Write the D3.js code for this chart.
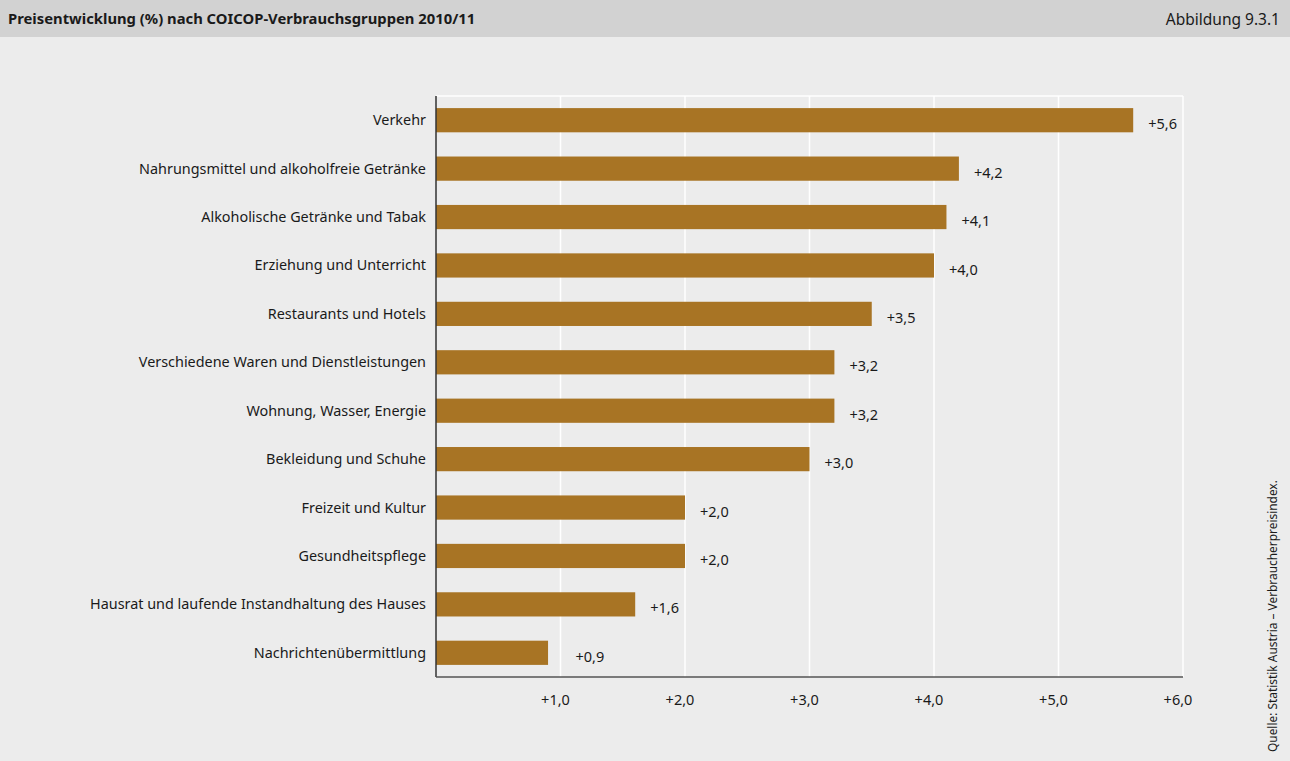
<!DOCTYPE html>
<html>
<head>
<meta charset="utf-8">
<script src="https://cdn.jsdelivr.net/npm/d3@7"></script>
<style>
  html, body { margin: 0; padding: 0; background: #ececec; }
  svg { display: block; font-family: "Noto Sans", "Open Sans", sans-serif; }
</style>
</head>
<body>
<svg id="chart" width="1290" height="761"></svg>
<script>
// COICOP consumption groups, price change 2010/11 in percent
const categories = [
  "Verkehr",
  "Nahrungsmittel und alkoholfreie Getränke",
  "Alkoholische Getränke und Tabak",
  "Erziehung und Unterricht",
  "Restaurants und Hotels",
  "Verschiedene Waren und Dienstleistungen",
  "Wohnung, Wasser, Energie",
  "Bekleidung und Schuhe",
  "Freizeit und Kultur",
  "Gesundheitspflege",
  "Hausrat und laufende Instandhaltung des Hauses",
  "Nachrichtenübermittlung"
];
const values = [5.6, 4.2, 4.1, 4.0, 3.5, 3.2, 3.2, 3.0, 2.0, 2.0, 1.6, 0.9];
const tickValues = [1, 2, 3, 4, 5, 6];
const tickLabels = ["+1,0", "+2,0", "+3,0", "+4,0", "+5,0", "+6,0"];

const W = 1290, H = 761;
const margin = { left: 436, right: 107, top: 96, bottom: 84 };
const svg = d3.select("#chart");

const fmt = v => "+" + v.toFixed(1).replace(".", ",");

// header band
svg.append("rect").attr("x", 0).attr("y", 0).attr("width", W).attr("height", 37).attr("fill", "#d2d2d2");
svg.append("text").attr("x", 8).attr("y", 24)
  .attr("font-size", 14.8).attr("font-weight", "bold").attr("fill", "#1a1a1a")
  .text("Preisentwicklung (%) nach COICOP-Verbrauchsgruppen 2010/11");
svg.append("text").attr("x", 1280).attr("y", 25).attr("text-anchor", "end")
  .attr("font-size", 15.5).attr("fill", "#1a1a1a")
  .text("Abbildung 9.3.1");

const x = d3.scaleLinear().domain([0, 6]).range([margin.left, W - margin.right]);
const y = d3.scaleBand().domain(categories).range([margin.top, H - margin.bottom]).paddingInner(0.5).paddingOuter(0.25);

// white grid
const g = svg.append("g");
g.selectAll("line.grid").data(tickValues).join("line")
  .attr("x1", d => x(d)).attr("x2", d => x(d))
  .attr("y1", margin.top).attr("y2", H - margin.bottom)
  .attr("stroke", "#ffffff").attr("stroke-width", 1.5);
g.append("line")
  .attr("x1", x(0)).attr("x2", x(6))
  .attr("y1", margin.top).attr("y2", margin.top)
  .attr("stroke", "#ffffff").attr("stroke-width", 1.5);

// bars
g.selectAll("rect.bar").data(values).join("rect")
  .attr("class", "bar")
  .attr("x", x(0))
  .attr("y", (d, i) => y(categories[i]))
  .attr("width", d => x(d) - x(0))
  .attr("height", y.bandwidth())
  .attr("fill", "#a87424");

// value labels
g.selectAll("text.val").data(values).join("text")
  .attr("x", d => x(Math.max(d, 1.0)) + 15)
  .attr("y", (d, i) => y(categories[i]) + y.bandwidth() / 2 + 4)
  .attr("dy", "0.35em")
  .attr("font-size", 14.5).attr("fill", "#1a1a1a")
  .text(fmt);

// category labels
g.selectAll("text.cat").data(categories).join("text")
  .attr("x", x(0) - 10)
  .attr("y", d => y(d) + y.bandwidth() / 2)
  .attr("dy", "0.35em")
  .attr("text-anchor", "end")
  .attr("font-size", 14.4).attr("fill", "#1a1a1a")
  .text(d => d);

// axes lines
g.append("line")
  .attr("x1", x(0)).attr("x2", x(0))
  .attr("y1", margin.top).attr("y2", H - margin.bottom)
  .attr("stroke", "#333").attr("stroke-width", 1.5);
g.append("line")
  .attr("x1", x(0)).attr("x2", x(6))
  .attr("y1", H - margin.bottom).attr("y2", H - margin.bottom)
  .attr("stroke", "#555").attr("stroke-width", 1.5);

// x tick labels
g.selectAll("text.tick").data(tickValues).join("text")
  .attr("x", d => x(d) - 5)
  .attr("y", H - margin.bottom + 23)
  .attr("dy", "0.35em")
  .attr("text-anchor", "middle")
  .attr("font-size", 14.5).attr("fill", "#1a1a1a")
  .text((d, i) => tickLabels[i]);

// source note, rotated
svg.append("text")
  .attr("transform", "translate(1277,752) rotate(-90)")
  .attr("font-size", 11.9).attr("fill", "#1a1a1a")
  .text("Quelle: Statistik Austria – Verbraucherpreisindex.");
</script>
</body>
</html>
